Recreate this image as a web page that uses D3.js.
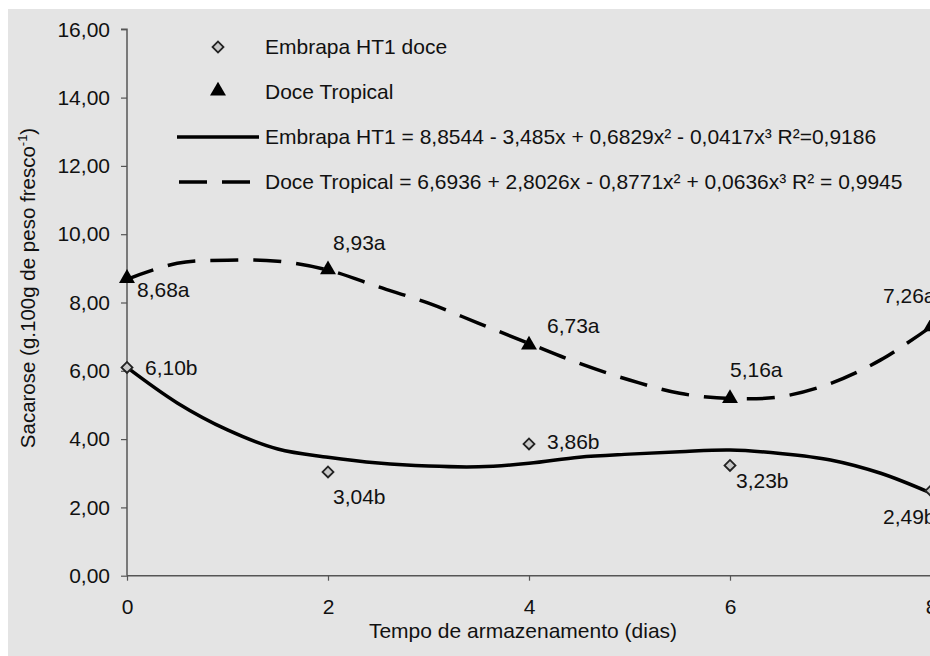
<!DOCTYPE html>
<html>
<head>
<meta charset="utf-8">
<script src="https://cdn.jsdelivr.net/npm/d3@7"></script>
<style>
    body { margin: 0; background: #ffffff; }
    svg text { font-family: "Liberation Sans", Arial, sans-serif; fill: #111; }
</style>
</head>
<body>
<svg id="chart" width="930" height="656"></svg>
<script>
// measured points (days of storage)
const days = [0, 2, 4, 6, 8];
const htValues = [6.10, 3.04, 3.86, 3.23, 2.49];
const dtValues = [8.68, 8.93, 6.73, 5.16, 7.26];
const htLabels = ['6,10b', '3,04b', '3,86b', '3,23b', '2,49b'];
const dtLabels = ['8,68a', '8,93a', '6,73a', '5,16a', '7,26a'];

// fitted curves, every half day
const fitDays = [0, 0.5, 1, 1.5, 2, 2.5, 3, 3.5, 4, 4.5, 5, 5.5, 6, 6.5, 7, 7.5, 8];
const htFit = [6.10, 5.06, 4.27, 3.71, 3.47, 3.30, 3.21, 3.19, 3.29, 3.47, 3.56, 3.63, 3.68, 3.58, 3.39, 3.00, 2.42];
const dtFit = [8.68, 9.15, 9.24, 9.21, 8.95, 8.46, 7.98, 7.39, 6.80, 6.22, 5.73, 5.34, 5.19, 5.24, 5.63, 6.32, 7.29];

const xTicks = [0, 2, 4, 6, 8];
const yTicks = [0, 2, 4, 6, 8, 10, 12, 14, 16];

const legendNames = [
    'Embrapa HT1 doce',
    'Doce Tropical',
    'Embrapa HT1 = 8,8544 - 3,485x + 0,6829x² - 0,0417x³ R²=0,9186',
    'Doce Tropical = 6,6936 + 2,8026x - 0,8771x² + 0,0636x³ R² = 0,9945'
];

const FONT = '21px';

const svg = d3.select('#chart');

svg.append('rect')
    .attr('x', 8).attr('y', 9)
    .attr('width', 922).attr('height', 647)
    .style('fill', '#e4e4e4');

const x = d3.scaleLinear().domain([0, 8]).range([127, 931]),
    y = d3.scaleLinear().domain([0, 16]).range([575.7, 29.3]);

const fmt = d => d.toFixed(2).replace('.', ',');

const yAxis = svg.append('g')
    .attr('transform', 'translate(' + x(0) + ',0)')
    .call(d3.axisLeft(y).tickValues(yTicks).tickFormat(fmt).tickSize(6).tickPadding(11));

const xAxis = svg.append('g')
    .attr('transform', 'translate(0,' + y(0) + ')')
    .call(d3.axisBottom(x).tickValues(xTicks).tickFormat(d => d).tickSize(5).tickPadding(18));

[xAxis, yAxis].forEach(g => {
    g.select('.domain').attr('stroke', '#555').attr('stroke-width', 1.5);
    g.selectAll('.tick line').attr('stroke', '#555').attr('stroke-width', 1.2);
    g.selectAll('text')
        .style('font-size', FONT)
        .style('font-family', '"Liberation Sans", Arial, sans-serif')
        .attr('fill', '#111');
});
// x domain has no outer tick on the left, the y axis already covers it
xAxis.select('.domain').attr('d', 'M' + x(0) + ',0H930');
yAxis.select('.domain').attr('d', 'M-6,' + y(16) + 'H0V' + y(0));

// axis titles
svg.append('text')
    .attr('x', 523).attr('y', 638)
    .attr('text-anchor', 'middle')
    .style('font-size', FONT)
    .text('Tempo de armazenamento (dias)');

const yTitle = svg.append('text')
    .attr('transform', 'translate(35,288) rotate(-90)')
    .attr('text-anchor', 'middle')
    .style('font-size', '20.5px');
yTitle.append('tspan').text('Sacarose (g.100g de peso fresco');
yTitle.append('tspan').attr('dy', -8).style('font-size', '13px').text('-1');
yTitle.append('tspan').attr('dy', 8).text(')');

// fitted lines
const line = d3.line()
    .x(d => x(d[0]))
    .y(d => y(d[1]))
    .curve(d3.curveCatmullRom);

svg.append('path')
    .datum(fitDays.map((d, i) => [d, dtFit[i]]))
    .attr('d', line)
    .style('fill', 'none')
    .style('stroke', '#000')
    .style('stroke-width', 3.5)
    .style('stroke-dasharray', '28,15');

svg.append('path')
    .datum(fitDays.map((d, i) => [d, htFit[i]]))
    .attr('d', line)
    .style('fill', 'none')
    .style('stroke', '#000')
    .style('stroke-width', 3.5);

// markers
const diamond = d3.symbol().type(d3.symbolSquare).size(60);
const triangle = d3.symbol().type(d3.symbolTriangle).size(110);

svg.append('g').selectAll('path')
    .data(days.map((d, i) => [d, dtValues[i]]))
    .enter()
    .append('path')
    .attr('d', triangle)
    .attr('transform', d => 'translate(' + x(d[0]) + ',' + (y(d[1]) - 1) + ')')
    .style('fill', '#000');

svg.append('g').selectAll('path')
    .data(days.map((d, i) => [d, htValues[i]]))
    .enter()
    .append('path')
    .attr('d', diamond)
    .attr('transform', d => 'translate(' + x(d[0]) + ',' + y(d[1]) + ') rotate(45)')
    .style('fill', '#c8c8c8')
    .style('stroke', '#222')
    .style('stroke-width', 1.8);

// data labels, nudged around each point like in the original
const htNudge = [[18, 0], [5, 25], [18, -2], [6, 15], [-48, 26]];
const dtNudge = [[10, 10], [5, -28], [18, -20], [0, -30], [-48, -32]];

const addLabels = (values, labels, nudge) => {
    svg.append('g').selectAll('text')
        .data(values)
        .enter()
        .append('text')
        .attr('x', (d, i) => x(days[i]) + nudge[i][0])
        .attr('y', (d, i) => y(d) + nudge[i][1])
        .attr('dy', '0.35em')
        .style('font-size', FONT)
        .text((d, i) => labels[i]);
};
addLabels(htValues, htLabels, htNudge);
addLabels(dtValues, dtLabels, dtNudge);

// legend
const legend = svg.append('g');
const rowY = [47, 92, 137, 182];

legend.append('path')
    .attr('d', diamond)
    .attr('transform', 'translate(218,' + rowY[0] + ') rotate(45)')
    .style('fill', '#c8c8c8')
    .style('stroke', '#222')
    .style('stroke-width', 1.8);

legend.append('path')
    .attr('d', triangle)
    .attr('transform', 'translate(218,' + (rowY[1] - 1) + ')')
    .style('fill', '#000');

legend.append('line')
    .attr('x1', 177).attr('x2', 259)
    .attr('y1', rowY[2]).attr('y2', rowY[2])
    .style('stroke', '#000').style('stroke-width', 3.5);

legend.append('line')
    .attr('x1', 179).attr('x2', 250)
    .attr('y1', rowY[3]).attr('y2', rowY[3])
    .style('stroke', '#000').style('stroke-width', 3.5)
    .style('stroke-dasharray', '28,15');

legend.selectAll('text.legend-label')
    .data(legendNames)
    .enter()
    .append('text')
    .classed('legend-label', true)
    .attr('x', 265)
    .attr('y', (d, i) => rowY[i])
    .attr('dy', '0.35em')
    .style('font-size', FONT)
    .text(d => d);
</script>
</body>
</html>
